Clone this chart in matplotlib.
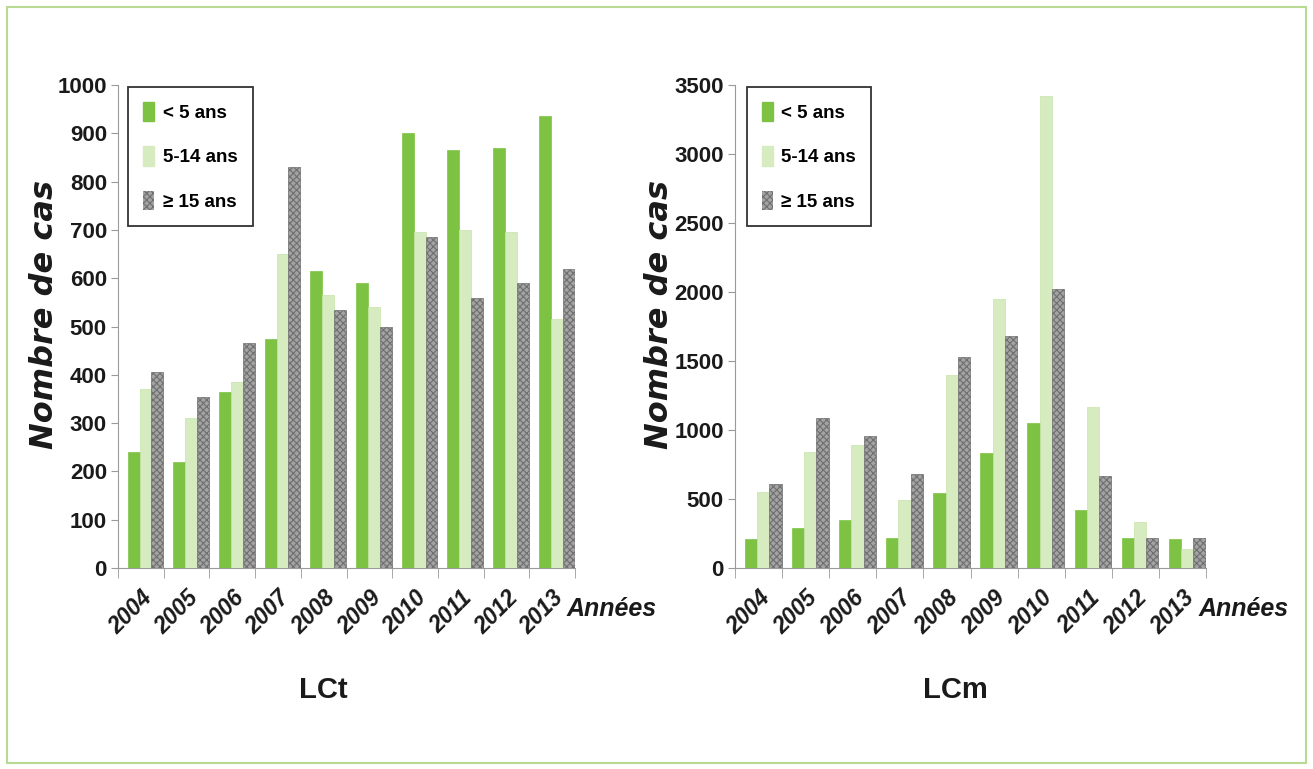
import numpy as np
import matplotlib.pyplot as plt
from matplotlib.patches import Patch, Rectangle

# Data
years = ['2004', '2005', '2006', '2007', '2008', '2009', '2010', '2011', '2012', '2013']
groups = ['< 5 ans', '5-14 ans', '\u2265 15 ans']

lct_lt5 = [240, 220, 365, 475, 615, 590, 900, 865, 870, 935]
lct_5_14 = [370, 310, 385, 650, 565, 540, 695, 700, 695, 515]
lct_ge15 = [405, 355, 465, 830, 535, 500, 685, 560, 590, 620]

lcm_lt5 = [210, 290, 350, 215, 540, 830, 1050, 420, 220, 210]
lcm_5_14 = [550, 840, 890, 490, 1400, 1950, 3420, 1170, 330, 140]
lcm_ge15 = [610, 1090, 960, 680, 1530, 1680, 2020, 670, 220, 220]

plt.rcParams['font.family'] = ['Liberation Sans Narrow', 'Liberation Sans', 'DejaVu Sans']
plt.rcParams['hatch.linewidth'] = 0.8

c_green = '#7dc243'
c_light = '#d6ecc0'
c_grey = '#a3a3a3'
c_axis = '#9a9a9a'
c_text = '#1a1a1a'

fig = plt.figure(figsize=(13.13, 7.69), dpi=100)
fig.patches.append(Rectangle((0.005, 0.008), 0.99, 0.983, transform=fig.transFigure,
                             fill=False, edgecolor='#b9da92', linewidth=1.5))


def draw(ax, a, b, c, ymax, ystep, title, title_x, leg_x):
    x = np.arange(len(years))
    w = 0.26
    ax.bar(x - w + 0.1, a, w, color=c_green, edgecolor=c_green, linewidth=0.5, zorder=3)
    ax.bar(x + 0.1, b, w, color=c_light, edgecolor='#c7e3a8', linewidth=0.5, zorder=3)
    ax.bar(x + w + 0.1, c, w, color=c_grey, edgecolor='#6f6f6f', hatch='xxxxx',
           linewidth=0.5, zorder=3)
    ax.set_xlim(-0.5, 9.5)
    ax.set_ylim(0, ymax)
    ax.set_yticks(np.arange(0, ymax + 1, ystep))
    ax.set_xticks(x)
    ax.set_xticks(np.arange(-0.5, 10, 1), minor=True)
    ax.tick_params(axis='x', which='major', length=0, pad=13)
    ax.tick_params(axis='x', which='minor', length=7, color=c_axis, direction='out')
    ax.tick_params(axis='y', length=5, color=c_axis, pad=3)
    for lab in ax.get_yticklabels():
        lab.set_fontsize(16)
        lab.set_fontweight('bold')
        lab.set_color(c_text)
    ax.set_xticklabels(years, rotation=45, ha='right', va='top', rotation_mode='anchor',
                       fontsize=16.5, fontweight='bold', fontstyle='italic', color=c_text)
    for s in ['top', 'right']:
        ax.spines[s].set_visible(False)
    ax.spines['left'].set_color(c_axis)
    ax.spines['bottom'].set_color(c_axis)
    ax.set_ylabel('Nombre de cas', fontsize=23, fontweight='bold', fontstyle='italic',
                  family=['DejaVu Sans'], color=c_text)
    ax.yaxis.set_label_coords(-0.127, 0.524)
    ax.text(1.08, -0.085, 'Années', transform=ax.transAxes, ha='center', va='center',
            fontsize=18, fontweight='bold', fontstyle='italic', color=c_text)
    ax.text(title_x, -0.253, title, transform=ax.transAxes, ha='center', va='center',
            fontsize=21, fontweight='bold', color=c_text)
    handles = [Patch(facecolor=c_green, edgecolor=c_green),
               Patch(facecolor=c_light, edgecolor=c_light),
               Patch(facecolor=c_grey, edgecolor='#6f6f6f', hatch='xxxxx', linewidth=0)]
    leg = ax.legend(handles, groups, loc='upper left', bbox_to_anchor=(leg_x, 0.996),
                    fancybox=False, framealpha=1, edgecolor='#333333',
                    prop={'size': 13.5, 'weight': 'bold'}, handlelength=0.6,
                    handleheight=1.2, handletextpad=0.45, labelspacing=1.3,
                    borderpad=0.8, borderaxespad=0)
    leg.get_frame().set_linewidth(1.3)


ax1 = fig.add_axes([0.0899, 0.2614, 0.348, 0.628])
draw(ax1, lct_lt5, lct_5_14, lct_ge15, 1000, 100, 'LCt', 0.45, 0.022)

ax2 = fig.add_axes([0.5598, 0.2614, 0.3587, 0.628])
draw(ax2, lcm_lt5, lcm_5_14, lcm_ge15, 3500, 500, 'LCm', 0.467, 0.025)

fig.savefig('out.png', dpi=100)
plt.close(fig)
